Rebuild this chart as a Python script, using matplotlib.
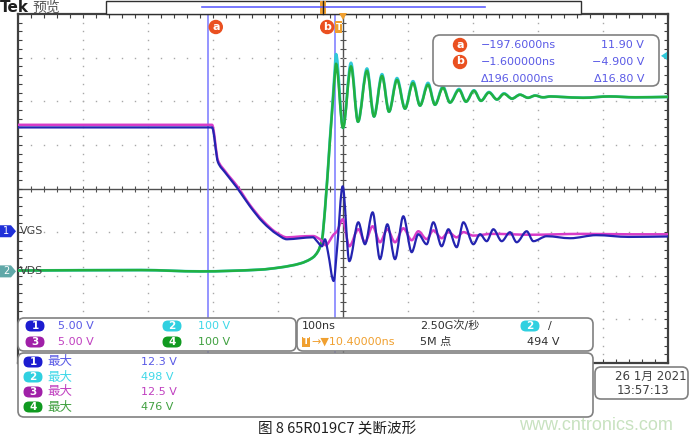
import numpy as np
import matplotlib
matplotlib.use('Agg')
import matplotlib.pyplot as plt
from matplotlib.patches import FancyBboxPatch, Circle, Polygon, Rectangle, PathPatch
from matplotlib.path import Path

plt.rcParams['font.family'] = ['DejaVu Sans', 'Noto Sans CJK SC']

# ---------------- data (time in ns, voltage in V) ----------------
trigger_offset_ns = 10.4      # expansion point relative to trigger
time_per_div = 100.0          # ns/div
ch1_scale, ch3_scale = 5.0, 5.0       # V/div
ch2_scale, ch4_scale = 100.0, 100.0   # V/div
ch1_offset_div = -0.98
ch2_offset_div = -1.90
cursor_a_ns, cursor_b_ns = -197.6, -1.6
trig_level_v = 494

# Ch1 (VGS, blue)
t_ch1 = [-489.6, -191.1, -181.9, -171.1, -152.7, -132.7, -112.7, -91.1, -75.8, -55.8,
         -35.8, -29.6, -21.9, -17.3, -12.7, -4.0, 1.2, 9.9, 20.1, 34.0,
         44.2, 56.0, 67.3, 78.6, 90.4, 103.2, 116.1, 126.3, 139.1, 149.4,
         162.2, 172.5, 185.3, 195.6, 211.0, 221.2, 231.5, 241.7, 254.6, 267.3,
         277.6, 293.0, 303.2, 323.8, 360.0, 400.0, 450.0, 510.4]
v_ch1 = [11.9, 11.9, 7.9, 6.75, 5.0, 2.86, 1.03, -0.34, -0.92, -0.8,
         -0.69, -1.14, -1.72, -0.92, -2.4, -5.7, -2.06, 5.15, -3.43, 1.03,
         -1.49, 2.17, -3.2, 0.8, -3.2, 1.72, -2.4, -0.34, -1.49, 1.03,
         -1.72, 0.23, -1.83, 1.03, -1.49, -0.34, -1.14, 0.23, -1.14, -0.11,
         -1.26, 0.0, -1.14, -0.57, -0.8, -0.45, -0.65, -0.6]

# Ch3 (magenta)
t_ch3 = [-489.6, -191.1, -181.9, -171.1, -152.7, -132.7, -112.7, -91.1, -75.8, -55.8,
         -35.8, -25.0, -15.8, -9.6, -5.0, 1.2, 9.9, 20.1, 34.0, 44.2,
         56.0, 67.3, 78.6, 90.4, 103.2, 116.1, 126.3, 139.1, 149.4, 162.2,
         172.5, 185.3, 195.6, 211.0, 240.0, 300.0, 380.0, 450.0, 510.4]
v_ch3 = [12.2, 12.2, 8.1, 6.9, 5.2, 3.0, 1.2, -0.2, -0.7, -0.6,
         -0.55, -0.92, -1.6, -1.03, -0.46, 0.0, 1.37, -1.72, 0.23, -1.26,
         0.57, -1.26, 0.23, -1.26, 0.34, -1.03, 0.0, -0.9, 0.1, -0.8,
         -0.1, -0.7, -0.1, -0.5, -0.3, -0.4, -0.3, -0.35, -0.35]

# Ch4 (VDS, green) and Ch2 (cyan) share the time base
t_vds = [-489.6, -300.0, -209.6, -117.3, -86.5, -55.8, -35.8, -28.1, -21.9, -17.3,
         -9.6, -5.0, -1.9, -0.4, 10.4, 22.7, 33.5, 47.3, 58.1, 70.4,
         81.2, 93.5, 105.8, 118.1, 128.9, 141.2, 151.9, 164.2, 175.0, 188.9,
         199.6, 211.9, 222.7, 235.0, 247.3, 258.1, 270.4, 282.7, 295.0, 306.0,
         318.0, 330.0, 345.0, 380.0, 420.0, 460.0, 510.4]
v_ch4 = [2, 3, 0, 4, 9, 18, 32, 46, 73, 142,
         302, 394, 455, 476, 329, 470, 343, 460, 355, 448,
         366, 439, 373, 432, 380, 428, 382, 421, 387, 416,
         389, 414, 391, 410, 394, 407, 396, 405, 398, 403,
         399, 401, 400, 398, 401, 399, 400]
v_ch2 = [2, 3, 0, 4, 9, 18, 32, 46, 73, 142,
         305, 400, 470, 498, 329, 478, 343, 465, 355, 452,
         366, 443, 373, 436, 380, 432, 382, 424, 387, 418,
         389, 415, 391, 411, 394, 408, 396, 405, 398, 403,
         399, 401, 400, 398, 401, 399, 400]

# ---------------- figure ----------------
W, H = 698, 441
fig = plt.figure(figsize=(W / 100, H / 100), dpi=100)
fig.patch.set_facecolor('white')

GX0, GX1, GY0, GY1 = 18, 668, 14, 363
XL0 = trigger_offset_ns - 5 * time_per_div
XL1 = trigger_offset_ns + 5 * time_per_div

ax = fig.add_axes([GX0 / W, 1 - GY1 / H, (GX1 - GX0) / W, (GY1 - GY0) / H])
ax.set_xlim(XL0, XL1)
ax.set_ylim(-4, 4)
ax.set_facecolor('white')


def px_x(t):
    return GX0 + (t - XL0) / (XL1 - XL0) * (GX1 - GX0)


def px_y(d):
    return (GY0 + GY1) / 2 - d * (GY1 - GY0) / 8


def trace(axis, x, y, **kw):
    """Draw the sample points as a smooth monotone (PCHIP-style) Bezier curve."""
    x = np.asarray(x, float)
    y = np.asarray(y, float)
    h = np.diff(x)
    d = np.diff(y) / h
    n = len(x)
    m = np.zeros(n)
    m[0], m[-1] = d[0], d[-1]
    for i in range(1, n - 1):
        if d[i - 1] * d[i] > 0:
            w1 = 2 * h[i] + h[i - 1]
            w2 = h[i] + 2 * h[i - 1]
            m[i] = (w1 + w2) / (w1 / d[i - 1] + w2 / d[i])
    verts = [(x[0], y[0])]
    codes = [Path.MOVETO]
    for i in range(n - 1):
        verts += [(x[i] + h[i] / 3, y[i] + m[i] * h[i] / 3),
                  (x[i + 1] - h[i] / 3, y[i + 1] - m[i + 1] * h[i] / 3),
                  (x[i + 1], y[i + 1])]
        codes += [Path.CURVE4] * 3
    axis.add_patch(PathPatch(Path(verts, codes), fill=False, capstyle='round',
                             joinstyle='round', **kw))


gridc = '#a8a8a8'
# dotted graticule
for k in range(1, 10):
    if k == 5:
        continue
    xk = XL0 + k * time_per_div
    ys = np.arange(-4, 4.001, 0.2)
    ax.plot(np.full_like(ys, xk), ys, ls='none', marker='s', ms=1.0, color=gridc, mew=0)
for j in range(-3, 4):
    if j == 0:
        continue
    xs = np.arange(XL0, XL1 + 0.01, 20)
    ax.plot(xs, np.full_like(xs, j), ls='none', marker='s', ms=1.0, color=gridc, mew=0)
# center lines with ticks
ax.axvline(trigger_offset_ns, color='#505050', lw=1.0, zorder=1)
ax.axhline(0, color='#505050', lw=1.0, zorder=1)
xs = np.arange(XL0, XL1 + 0.01, 20)
ax.plot(xs, np.zeros_like(xs), ls='none', marker='|', ms=5, mew=0.8, color='#505050', zorder=1)
ys = np.arange(-4, 4.001, 0.2)
ax.plot(np.full_like(ys, trigger_offset_ns), ys, ls='none', marker='_', ms=5, mew=0.8,
        color='#505050', zorder=1)

for s in ax.spines.values():
    s.set_color('#404040')
    s.set_linewidth(1.6)
ax.set_xticks(np.arange(XL0, XL1 + 0.01, 20))
ax.set_yticks(np.arange(-4, 4.001, 0.2))
ax.tick_params(direction='in', length=3, width=0.8, color='#404040',
               labelbottom=False, labelleft=False, top=True, right=True)

# cursors
for c in (cursor_a_ns, cursor_b_ns):
    ax.axvline(c, color='#7878ff', lw=1.1, zorder=2)

# traces
trace(ax, t_vds, np.array(v_ch2) / ch2_scale + ch2_offset_div, color='#30c8d8', lw=2.0, zorder=3)
trace(ax, t_vds, np.array(v_ch4) / ch4_scale + ch2_offset_div, color='#22b040', lw=1.8, zorder=4)
trace(ax, t_ch3, np.array(v_ch3) / ch3_scale + ch1_offset_div, color='#d83cc8', lw=1.8, zorder=5)
trace(ax, t_ch1, np.array(v_ch1) / ch1_scale + ch1_offset_div, color='#2424b0', lw=1.6, zorder=6)

# ---------------- overlay ----------------
ov = fig.add_axes([0, 0, 1, 1])
ov.set_xlim(0, W)
ov.set_ylim(H, 0)
ov.axis('off')


def rbox(x0, y0, x1, y1, r=6, ec='#808080', fc='white', lw=1.2):
    ov.add_patch(FancyBboxPatch((x0, y0), x1 - x0, y1 - y0,
                                boxstyle=f'round,pad=0,rounding_size={r}',
                                fc=fc, ec=ec, lw=lw))


def badge(x, y, txt, color):
    ov.add_patch(FancyBboxPatch((x - 9.5, y - 5.5), 19, 11,
                                boxstyle='round,pad=0,rounding_size=5.5',
                                fc=color, ec='none'))
    ov.text(x, y + 0.3, txt, color='white', fontsize=7.5, fontweight='bold',
            ha='center', va='center')


# top bar
ov.text(0, 8, 'Tek', fontsize=11, fontweight='bold', va='center', color='#202020')
ov.text(32, 8, '预览', fontsize=10, va='center', color='#555555')
ov.add_patch(Rectangle((106, 1), 475, 13, fc='white', ec='#303030', lw=1))
ov.plot([202, 485], [7, 7], color='#6060ff', lw=1.2)
ov.add_patch(Rectangle((320, 1), 6, 13, fc='#f0a030', ec='none'))
ov.plot([323, 323], [1, 14], color='#202020', lw=1)

# cursor labels
xa, xb = px_x(cursor_a_ns), px_x(cursor_b_ns)
for x, lab in ((xa + 8, 'a'), (xb - 8, 'b')):
    ov.add_patch(Circle((x, 27), 6.5, color='#ea5020'))
    ov.text(x, 26.5, lab, color='white', fontsize=8, fontweight='bold', ha='center', va='center')
# trigger tag & marker
xt = px_x(trigger_offset_ns)
ov.add_patch(Rectangle((xt - 8, 21), 7, 12, fc='#f0a030', ec='none'))
ov.text(xt - 4.5, 27, 'T', color='white', fontsize=6.5, fontweight='bold', ha='center', va='center')
ov.add_patch(Polygon([(xt - 4, 13), (xt + 4, 13), (xt, 20)], closed=True, fc='#f0a030', ec='none'))

# trigger level arrow (right)
yl = px_y(trig_level_v / ch2_scale + ch2_offset_div)
ov.add_patch(Polygon([(GX1 - 7, yl), (GX1 - 1, yl - 4), (GX1 - 1, yl + 4)], closed=True,
                     fc='#30c8d8', ec='none'))

# left channel tags
for y, lab, col, name in ((px_y(ch1_offset_div), '1', '#2030d8', 'VGS'),
                          (px_y(ch2_offset_div), '2', '#60a8a8', 'VDS')):
    ov.add_patch(Polygon([(0, y - 6), (11, y - 6), (16, y), (11, y + 6), (0, y + 6)],
                         closed=True, fc=col, ec='none'))
    ov.text(6, y, lab, color='white', fontsize=7, ha='center', va='center')
    ov.text(20, y, name, color='#404040', fontsize=8, va='center')

# cursor readout box
rbox(433, 35, 659, 86, r=7)
tc = '#5a5ae6'
rows = [('a', '\u2212197.6000ns', '11.90 V', 45),
        ('b', '\u22121.600000ns', '\u22124.900 V', 62),
        (None, '\u0394196.0000ns', '\u039416.80 V', 79)]
for lab, tstr, vstr, y in rows:
    if lab:
        ov.add_patch(Circle((460, y), 6.5, color='#ea5020'))
        ov.text(460, y - 0.5, lab, color='white', fontsize=8, fontweight='bold',
                ha='center', va='center')
    ov.text(481, y, tstr, color=tc, fontsize=8, va='center')
    ov.text(644, y, vstr, color=tc, fontsize=8, va='center', ha='right')

# bottom panels
c1, c2, c3, c4 = '#1c1cd0', '#30d0e0', '#a020a8', '#109a20'
t1c, t2c, t3c, t4c = '#5a5ae6', '#40d8e8', '#c040c0', '#40a040'
rbox(18, 318, 296, 351, r=6)
badge(35, 326, '1', c1); ov.text(58, 326, '5.00 V', color=t1c, fontsize=8, va='center')
badge(172, 326, '2', c2); ov.text(198, 326, '100 V', color=t2c, fontsize=8, va='center')
badge(35, 342, '3', c3); ov.text(58, 342, '5.00 V', color=t3c, fontsize=8, va='center')
badge(172, 342, '4', c4); ov.text(198, 342, '100 V', color=t4c, fontsize=8, va='center')

rbox(297, 318, 593, 351, r=6)
ov.text(302, 326, '100ns', color='#303030', fontsize=8, va='center')
ov.text(420, 326, '2.50G次/秒', color='#303030', fontsize=8, va='center')
badge(530, 326, '2', c2)
ov.text(548, 326, '/', color='#303030', fontsize=8, va='center')
ov.add_patch(Rectangle((302, 337), 8, 10, fc='#f0a030', ec='none'))
ov.text(306, 342, 'T', color='white', fontsize=6.5, fontweight='bold', ha='center', va='center')
ov.text(311, 342, '\u2192\u25bc10.40000ns', color='#f0a030', fontsize=8, va='center')
ov.text(420, 342, '5M 点', color='#303030', fontsize=8, va='center')
ov.text(527, 342, '494 V', color='#303030', fontsize=8, va='center')

rbox(18, 353, 593, 417, r=6)
meas = [('1', c1, t1c, '12.3 V', 362), ('2', c2, t2c, '498 V', 377),
        ('3', c3, t3c, '12.5 V', 392), ('4', c4, t4c, '476 V', 407)]
for lab, bc, tcol, val, y in meas:
    badge(33, y, lab, bc)
    ov.text(47, y, '最大', color=tcol, fontsize=9, va='center')
    ov.text(141, y, val, color=tcol, fontsize=8, va='center')

rbox(595, 367, 688, 399, r=6)
ov.text(687, 376, '26 1月 2021', color='#404040', fontsize=8.5, va='center', ha='right')
ov.text(617, 390, '13:57:13', color='#404040', fontsize=8.5, va='center')

# caption and watermark
ov.text(337, 429, '图 8 65R019C7 关断波形', color='#202020', fontsize=10.5, ha='center',
        va='center', family=['Noto Sans CJK SC', 'DejaVu Sans'])
ov.text(596, 426, 'www.cntronics.com', color='#c8e2c0', fontsize=13, ha='center',
        va='center', family=['Liberation Sans', 'DejaVu Sans'])

fig.savefig('out.png', dpi=100, facecolor='white')
